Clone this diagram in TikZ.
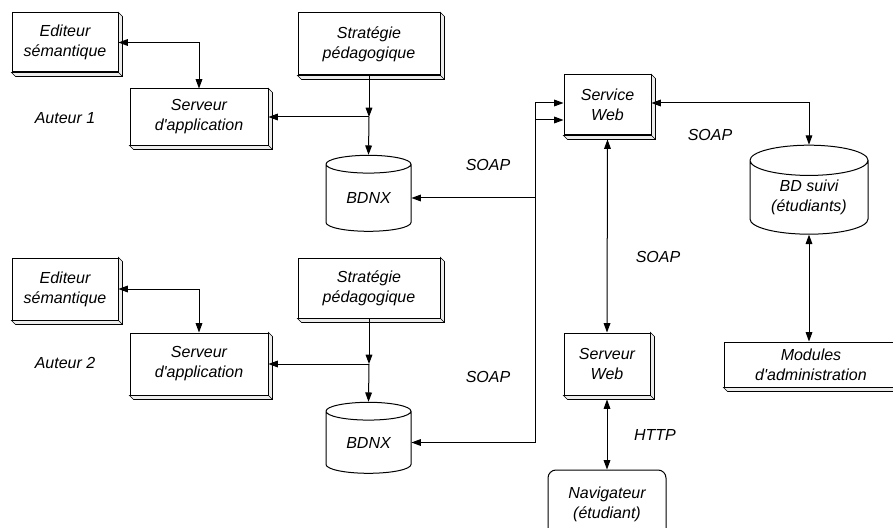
\documentclass[tikz,border=0pt]{standalone}
\usepackage{fontspec}
\setmainfont{Liberation Sans}
\usetikzlibrary{arrows.meta}
\usetikzlibrary{shapes.geometric}

\tikzset{
  slab/.style={draw, line width=0.75pt, fill=white, align=center, inner sep=0pt},
  dbase/.style={draw, line width=0.75pt, shape=cylinder, shape border rotate=90,
    aspect=0.4, align=center, inner sep=0pt},
  link/.style={line width=0.75pt, -{Triangle[length=7pt,width=5pt]}},
  biLink/.style={line width=0.75pt,
    {Triangle[length=7pt,width=5pt]}-{Triangle[length=7pt,width=5pt]}},
  lbl/.style={inner sep=0pt}
}

\begin{document}
\begin{tikzpicture}[x=0.75pt, y=-0.75pt, font=\itshape\fontsize{12}{15}\selectfont]
  \useasboundingbox (0,0) rectangle (893,528);

  % auteur 1
  \node[slab, minimum width=79.5pt, minimum height=44.25pt] (ed1) at (65,42.5) {Editeur\\sémantique};
  \node[slab, minimum width=103.5pt, minimum height=42pt] (sa1) at (199,117) {Serveur\\d\textquotesingle application};
  \node[slab, minimum width=106.5pt, minimum height=46.5pt] (st1) at (369,44) {Stratégie\\pédagogique};
  \node[dbase, minimum width=63.75pt, minimum height=57pt] (bd1) at (368.5,198) {BDNX};
  \node[lbl] (au1) at (65,118) {Auteur 1};

  % auteur 2
  \node[slab, minimum width=79.5pt, minimum height=46.5pt] (ed2) at (65,289) {Editeur\\sémantique};
  \node[slab, minimum width=103.5pt, minimum height=46.5pt] (sa2) at (199,364) {Serveur\\d\textquotesingle application};
  \node[slab, minimum width=106.5pt, minimum height=45pt] (st2) at (369,288) {Stratégie\\pédagogique};
  \node[dbase, minimum width=63.75pt, minimum height=53.25pt] (bd2) at (368.5,442.5) {BDNX};
  \node[lbl] (au2) at (65,363) {Auteur 2};

  % cote serveur
  \node[slab, minimum width=65.25pt, minimum height=45pt] (sw) at (607.5,105) {Service\\Web};
  \node[dbase, minimum width=88.5pt, minimum height=66.75pt] (bds) at (809,197.5) {BD suivi\\(étudiants)};
  \node[slab, minimum width=130.5pt, minimum height=33.75pt] (mod) at (811,364.5) {Modules\\d\textquotesingle administration};
  \node[slab, minimum width=64.5pt, minimum height=46.5pt] (sv) at (607,364) {Serveur\\Web};
  \node[draw, line width=0.75pt, rounded corners=6pt, minimum width=88.5pt, minimum height=51pt,
    align=center, inner sep=0pt] (nav) at (607,504) {Navigateur\\(étudiant)};

  % ombres des blocs
  \foreach \n in {ed1,sa1,st1,ed2,sa2,st2,sw,sv,mod}
    \draw[line width=0.5pt, fill=gray!15]
      (\n.north east) -- ([shift={(4,4)}]\n.north east) -- ([shift={(4,4)}]\n.south east)
      -- ([shift={(4,4)}]\n.south west) -- (\n.south west) -- (\n.south east) -- cycle
      (\n.south east) -- ([shift={(4,4)}]\n.south east);

  % protocoles
  \node[lbl] (soap1) at (488,165) {SOAP};
  \node[lbl] (soap2) at (488,377) {SOAP};
  \node[lbl] (soap3) at (710,135) {SOAP};
  \node[lbl] (soap4) at (658,257) {SOAP};
  \node[lbl] (http) at (655,435) {HTTP};

  \coordinate (j1) at (369,117);
  \coordinate (j2) at (369,364);
  \coordinate (bus) at (535,0);

  \draw[biLink] (ed1.east) -| (sa1.north);
  \draw[biLink] (ed2.east) -| (sa2.north);
  \draw[link] (st1.south) -- (j1);
  \draw[link] (j1) -- (bd1.north);
  \draw[link] (j1) -- (sa1.east);
  \draw[link] (st2.south) -- (j2);
  \draw[link] (j2) -- (bd2.north);
  \draw[link] (j2) -- (sa2.east);
  \draw[biLink] (bd1.east) -- (bd1.east -| bus) |- ([yshift=1.5pt]sw.west);
  \draw[biLink] (bd2.east) -- (bd2.east -| bus) |- ([yshift=-11.25pt]sw.west);
  \draw[biLink] ([yshift=1.5pt]sw.east) -| (bds.north);
  \draw[biLink] (bds.south) -- (bds.south |- mod.north);
  \draw[biLink] ([yshift=-3pt]sw.south) -- (sv.north);
  \draw[biLink] ([yshift=-3pt]sv.south) -- (nav.north);
\end{tikzpicture}
\end{document}
